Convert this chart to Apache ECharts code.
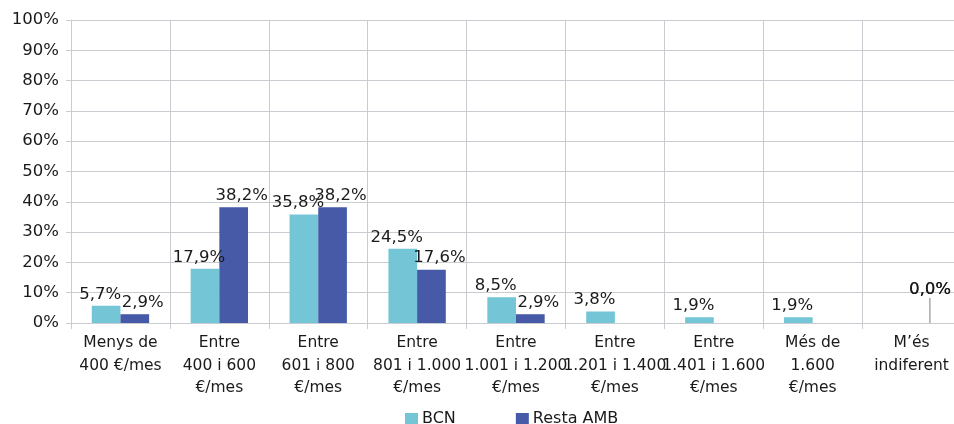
<!DOCTYPE html>
<html>
<head>
<meta charset="utf-8">
<script src="https://cdn.jsdelivr.net/npm/echarts@6/dist/echarts.min.js"></script>
<style>
  html, body { margin: 0; padding: 0; background: #ffffff; overflow: hidden; }
  #chart { width: 954px; height: 424px; }
</style>
</head>
<body>
<div id="chart"></div>
<script>
// Income bands (monthly) and share of respondents in each
const categories = [
  'Menys de\n400 €/mes',
  'Entre\n400 i 600\n€/mes',
  'Entre\n601 i 800\n€/mes',
  'Entre\n801 i 1.000\n€/mes',
  'Entre\n1.001 i 1.200\n€/mes',
  'Entre\n1.201 i 1.400\n€/mes',
  'Entre\n1.401 i 1.600\n€/mes',
  'Més de\n1.600\n€/mes',
  'M’és\nindiferent'
];
const bcn = [5.7, 17.9, 35.8, 24.5, 8.5, 3.8, 1.9, 1.9, 0.0];
const restaAmb = [2.9, 38.2, 38.2, 17.6, 2.9, null, null, null, 0.0];
const yTicks = [0, 10, 20, 30, 40, 50, 60, 70, 80, 90, 100];

const FONT = '"DejaVu Sans", sans-serif';
const TEXT = '#1a1a1a';
const GRID = '#c9cdd2';
const LAST = categories.length - 1;

const fmt = v => v.toFixed(1).replace('.', ',') + '%';

const chart = echarts.init(document.getElementById('chart'), null, { renderer: 'canvas' });
chart.setOption({
  animation: false,
  textStyle: { fontFamily: FONT },
  // the plot runs a little past the right edge of the page
  grid: { left: 71, width: 890, top: 20, bottom: 101, outerBoundsMode: 'none', containLabel: false },
  legend: {
    top: 411,
    left: 405,
    padding: 0,
    itemWidth: 13,
    itemHeight: 12,
    itemGap: 60,
    icon: 'rect',
    textStyle: { fontFamily: FONT, fontSize: 16, color: TEXT, padding: [0, 0, 0, -1] },
    data: ['BCN', 'Resta AMB']
  },
  xAxis: {
    type: 'category',
    data: categories,
    boundaryGap: true,
    axisLine: { lineStyle: { color: GRID, width: 1 } },
    axisTick: { show: true, length: 6, lineStyle: { color: GRID } },
    splitLine: { show: true, lineStyle: { color: GRID, width: 1 } },
    axisLabel: {
      interval: 0,
      margin: 9,
      fontFamily: FONT,
      fontSize: 15.5,
      lineHeight: 22.5,
      color: TEXT,
      align: 'center'
    }
  },
  yAxis: {
    type: 'value',
    min: yTicks[0],
    max: yTicks[yTicks.length - 1],
    interval: 10,
    axisLine: { show: true, lineStyle: { color: GRID } },
    axisTick: { show: true, length: 5, lineStyle: { color: GRID } },
    splitLine: { show: true, lineStyle: { color: GRID, width: 1 } },
    axisLabel: {
      margin: 12,
      fontFamily: FONT,
      fontSize: 16.5,
      color: TEXT,
      formatter: v => v + '%'
    }
  },
  series: [
    {
      name: 'BCN',
      type: 'bar',
      data: bcn,
      barGap: '0%',
      barCategoryGap: '42%',
      itemStyle: { color: '#74c6d6' },
      label: {
        show: true,
        position: 'top',
        distance: 3,
        fontFamily: FONT,
        fontSize: 16.5,
        color: TEXT,
        formatter: p => fmt(p.value)
      },
      // labels lean left of their bar; the last zero label joins the other series' one
      labelLayout: p => (p.dataIndex === LAST ? { dx: 33, dy: -22 } : { dx: -6 })
    },
    {
      name: 'Resta AMB',
      type: 'bar',
      // only the lifted zero label gets a leader line down to its bar
      data: restaAmb.map((v, i) =>
        i === LAST ? { value: v, labelLine: { show: true } } : v
      ),
      itemStyle: { color: '#465aa7' },
      label: {
        show: true,
        position: 'top',
        distance: 3,
        fontFamily: FONT,
        fontSize: 16.5,
        color: TEXT,
        formatter: p => (p.value == null ? '' : fmt(p.value))
      },
      labelLine: {
        show: false,
        length2: 0,
        lineStyle: { color: '#a6a9ad', width: 1.5 }
      },
      labelLayout: p => (p.dataIndex === LAST ? { dx: 4, dy: -22 } : { dx: 8 })
    }
  ]
});
</script>
</body>
</html>
